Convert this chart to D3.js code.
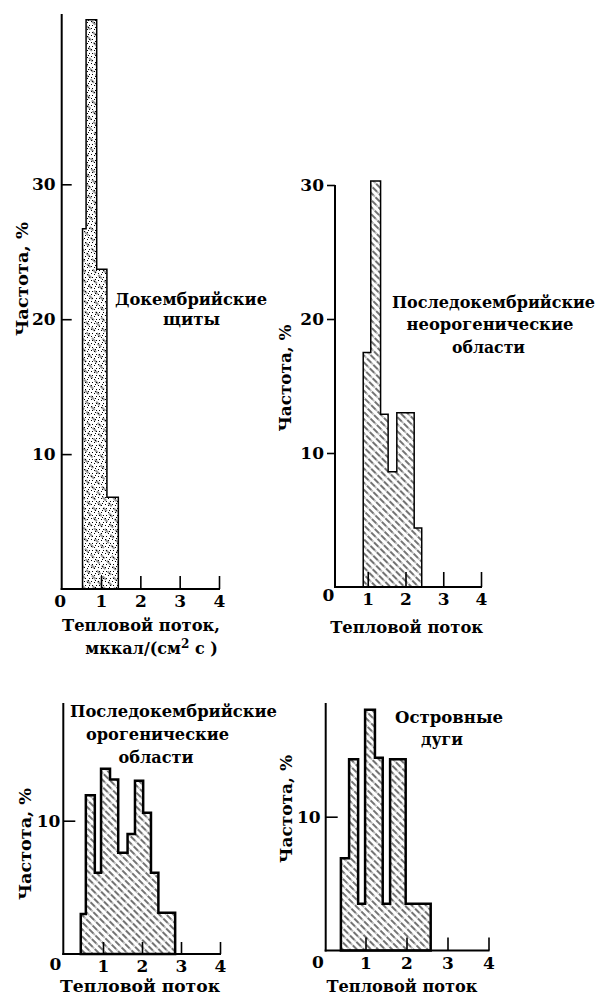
<!DOCTYPE html>
<html>
<head>
<meta charset="utf-8">
<script src="https://cdn.jsdelivr.net/npm/d3@7"></script>
<style>
  body { margin: 0; background: #fff; }
  svg text { font-family: "DejaVu Serif", "Liberation Serif", serif; font-weight: bold; fill: #000; }
</style>
</head>
<body>
<div id="plot"></div>
<script>
const WIDTH = 601;
const HEIGHT = 997;

const X_TICKS = [0, 1, 2, 3, 4];

// Докембрийские щиты: границы интервалов (тепловой поток) и частота, %
const shieldEdges = [0.53, 0.62, 0.89, 1.15, 1.44];
const shieldFreq = [26.7, 42.2, 23.7, 6.8];
const shieldYTicks = [10, 20, 30];

// Последокембрийские неорогенические области
const neoEdges = [0.88, 1.08, 1.34, 1.54, 1.77, 2.23, 2.43];
const neoFreq = [17.5, 30.3, 12.9, 8.6, 13.0, 4.4];
const neoYTicks = [10, 20, 30];

// Последокембрийские орогенические области
const oroEdges = [0.43, 0.56, 0.79, 0.95, 1.18, 1.39, 1.63, 1.82, 2.03, 2.23, 2.42, 2.85];
const oroFreq = [3.0, 11.9, 6.1, 13.9, 13.1, 7.6, 9.0, 13.0, 10.6, 6.1, 3.1];
const oroYTicks = [10];

// Островные дуги
const arcEdges = [0.40, 0.60, 0.82, 0.99, 1.23, 1.42, 1.60, 1.98, 2.59];
const arcFreq = [6.9, 14.3, 3.5, 18.0, 14.4, 3.5, 14.3, 3.5];
const arcYTicks = [10];

const panels = [
  {edges: shieldEdges, freq: shieldFreq, yTicks: shieldYTicks,
   xRange: [61.7, 219], yRange: [589, 184.3], yVal: 30, axisX: 61.7, axisTop: 14,
   yTickSize: -10, yTickPad: 6, xTickSize: 13, stroke: 1.5, fills: ["dots", "hatchSparse"],
   zero: [-2, 0],
   title: [["Докембрийские", 191, 305, 152], ["щиты", 191.5, 325, 57]],
   yLabel: [28, 279, 114],
   xLabel: [["Тепловой поток,", 141, 631, 158]], unitLine: [151.5, 654]},
  {edges: neoEdges, freq: neoFreq, yTicks: neoYTicks,
   xRange: [330, 481], yRange: [587, 185], yVal: 30, axisX: 335, axisTop: 185,
   yTickSize: 8, yTickPad: 3, xTickSize: 15, stroke: 1.5, fills: ["hatch"],
   zero: [-2, -4],
   title: [["Последокембрийские", 493.5, 308, 203], ["неорогенические", 490, 330, 167], ["области", 488.5, 353, 73]],
   yLabel: [291, 378, 107],
   xLabel: [["Тепловой поток", 406.7, 633, 153]]},
  {edges: oroEdges, freq: oroFreq, yTicks: oroYTicks,
   xRange: [64, 220], yRange: [954, 820.7], yVal: 10, axisX: 63.3, axisTop: 703,
   yTickSize: -12, yTickPad: 3, xTickSize: 12, stroke: 2.5, fills: ["hatch"],
   zero: [-9, -2],
   title: [["Последокембрийские", 173.5, 717, 207], ["орогенические", 157.5, 740, 143], ["области", 156, 763, 75]],
   yLabel: [31, 844, 112],
   xLabel: [["Тепловой поток", 140, 992, 160]]},
  {edges: arcEdges, freq: arcFreq, yTicks: arcYTicks,
   xRange: [324.5, 488.5], yRange: [950.5, 816.7], yVal: 10, axisX: 325.7, axisTop: 703,
   yTickSize: -12, yTickPad: 5, xTickSize: 13, stroke: 2.5, fills: ["hatch"],
   zero: [-7, -1],
   title: [["Островные", 449, 723, 108], ["дуги", 442, 745, 42]],
   yLabel: [292, 809, 108],
   xLabel: [["Тепловой поток", 402, 992, 151]]}
];

const svg = d3.select("#plot").append("svg")
    .attr("width", WIDTH)
    .attr("height", HEIGHT);

svg.append("rect").attr("width", WIDTH).attr("height", HEIGHT).attr("fill", "#fff");

// штриховки
const defs = svg.append("defs");

const hatch = defs.append("pattern")
    .attr("id", "hatch")
    .attr("patternUnits", "userSpaceOnUse")
    .attr("width", 5).attr("height", 9)
    .attr("patternTransform", "rotate(-45)");
hatch.append("line")
    .attr("x1", 1).attr("y1", 0).attr("x2", 1).attr("y2", 6.5)
    .attr("stroke", "#000").attr("stroke-width", 1.1);
hatch.append("rect")
    .attr("x", 0.5).attr("y", 7.4).attr("width", 1).attr("height", 0.8)
    .attr("fill", "#000");

const hatchSparse = defs.append("pattern")
    .attr("id", "hatchSparse")
    .attr("patternUnits", "userSpaceOnUse")
    .attr("width", 7).attr("height", 8)
    .attr("patternTransform", "rotate(-45)");
hatchSparse.append("line")
    .attr("x1", 1).attr("y1", 0).attr("x2", 1).attr("y2", 5)
    .attr("stroke", "#000").attr("stroke-width", 0.8);

const dots = defs.append("pattern")
    .attr("id", "dots")
    .attr("patternUnits", "userSpaceOnUse")
    .attr("width", 7).attr("height", 7);
[[0, 0], [3, 1], [5, 4], [1, 4], [4, 6]].forEach((d) => {
  dots.append("rect").attr("x", d[0]).attr("y", d[1])
      .attr("width", 1).attr("height", 1).attr("fill", "#000");
});

function addText(g, str, x, y, len, size) {
  const t = g.append("text")
      .attr("x", x).attr("y", y)
      .attr("text-anchor", "middle")
      .attr("font-size", size)
      .text(str);
  if (len) t.attr("textLength", len).attr("lengthAdjust", "spacingAndGlyphs");
  return t;
}

panels.forEach((p) => {
  const g = svg.append("g");

  const x = d3.scaleLinear().domain([0, 4]).range(p.xRange);
  const y = d3.scaleLinear().domain([0, p.yVal]).range(p.yRange);

  // столбцы гистограммы: ступенчатый контур
  const pts = p.freq.map((f, i) => [p.edges[i], f]);
  pts.push([p.edges[p.edges.length - 1], p.freq[p.freq.length - 1]]);

  const area = d3.area()
      .x((d) => x(d[0]))
      .y0(y(0))
      .y1((d) => y(d[1]))
      .curve(d3.curveStepAfter);

  p.fills.forEach((f) => {
    g.append("path").datum(pts)
        .attr("d", area)
        .attr("fill", "url(#" + f + ")")
        .attr("stroke", "none");
  });
  g.append("path").datum(pts)
      .attr("d", area)
      .attr("fill", "none")
      .attr("stroke", "#000")
      .attr("stroke-width", p.stroke)
      .attr("stroke-linejoin", "miter");

  // оси
  g.append("line")
      .attr("x1", p.axisX).attr("x2", p.axisX)
      .attr("y1", y(0) + 1).attr("y2", p.axisTop)
      .attr("stroke", "#000").attr("stroke-width", 2);
  g.append("line")
      .attr("x1", p.axisX - 1).attr("x2", x(4) + 1)
      .attr("y1", y(0)).attr("y2", y(0))
      .attr("stroke", "#000").attr("stroke-width", 2);

  const xAxis = g.append("g")
      .attr("transform", "translate(0," + y(0) + ")")
      .call(d3.axisBottom(x).tickValues(X_TICKS).tickFormat(d3.format("d"))
          .tickSizeInner(-p.xTickSize).tickSizeOuter(0).tickPadding(6));
  xAxis.select(".domain").remove();
  xAxis.selectAll(".tick line").attr("stroke", "#000").attr("stroke-width", 1.6)
      .filter((d) => d === 0).remove();
  xAxis.selectAll(".tick text")
      .attr("font-size", 17).attr("font-family", null)
      .filter((d) => d === 0)
      .attr("dx", p.zero[0]).attr("dy", (0.71 * 17 + p.zero[1]) + "px");

  const yAxis = g.append("g")
      .attr("transform", "translate(" + p.axisX + ",0)")
      .call(d3.axisLeft(y).tickValues(p.yTicks).tickFormat(d3.format("d"))
          .tickSizeInner(p.yTickSize).tickSizeOuter(0).tickPadding(p.yTickPad));
  yAxis.select(".domain").remove();
  yAxis.selectAll(".tick line").attr("stroke", "#000").attr("stroke-width", 1.6);
  yAxis.selectAll(".tick text").attr("font-size", 17).attr("font-family", null);
  g.selectAll(".tick text").attr("fill", "#000");

  // подписи
  p.title.forEach((t) => addText(g, t[0], t[1], t[2], t[3], 16));
  p.xLabel.forEach((t) => addText(g, t[0], t[1], t[2], t[3], 16));

  if (p.unitLine) {
    const u = g.append("text")
        .attr("x", p.unitLine[0]).attr("y", p.unitLine[1])
        .attr("text-anchor", "middle")
        .attr("font-size", 16);
    u.append("tspan").text("мккал/(см");
    u.append("tspan").attr("dy", -6).attr("font-size", 12).text("2");
    u.append("tspan").attr("dy", 6).text(" с )");
  }

  g.append("text")
      .attr("transform", "translate(" + p.yLabel[0] + "," + p.yLabel[1] + ") rotate(-90)")
      .attr("text-anchor", "middle")
      .attr("font-size", 16)
      .attr("textLength", p.yLabel[2])
      .attr("lengthAdjust", "spacingAndGlyphs")
      .text("Частота, %");
});
</script>
</body>
</html>
